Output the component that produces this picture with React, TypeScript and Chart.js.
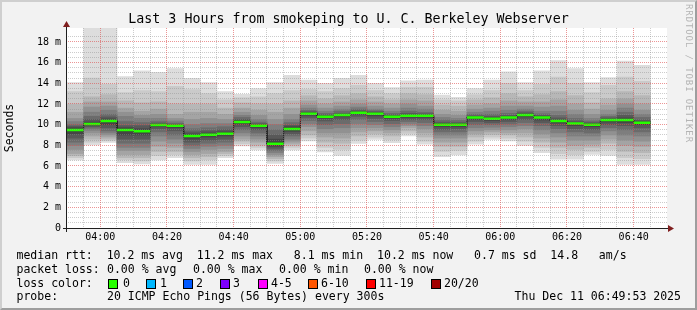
import React, { useEffect, useRef } from 'react';
import { Chart, registerables } from 'chart.js';

Chart.register(...registerables);

const MONO = "'DejaVu Sans Mono', 'Liberation Mono', monospace";

// time axis: minutes after 03:50
const xTickLabels = ['04:00', '04:20', '04:40', '05:00', '05:20', '05:40', '06:00', '06:20', '06:40'];
const yTickLabels = ['0', '2 m', '4 m', '6 m', '8 m', '10 m', '12 m', '14 m', '16 m', '18 m'];

const slotStartMinutes = [
  0, 5, 10, 15, 20, 25, 30, 35, 40, 45, 50, 55, 60, 65, 70, 75, 80, 85,
  90, 95, 100, 105, 110, 115, 120, 125, 130, 135, 140, 145, 150, 155, 160, 165, 170,
];

// median rtt per 5-minute step (ms)
const medianRtt = [
  9.48, 10.06, 10.35, 9.48, 9.35, 9.97, 9.9, 8.9, 9.03, 9.13, 10.26, 9.9, 8.16, 9.58, 11.06, 10.77, 10.94, 11.16,
  11.05, 10.77, 10.87, 10.87, 10.0, 10.0, 10.68, 10.58, 10.68, 10.94, 10.68, 10.35, 10.1, 10.0, 10.45, 10.45, 10.19,
];

// 20 sorted ping rtts per 5-minute step (ms)
const smokePings = [
  [6.58, 6.8, 7.0, 7.2, 7.6, 8.0, 8.3, 8.7, 9.1, 9.42, 9.54, 9.7, 9.85, 10.0, 10.3, 10.6, 11.2, 12.0, 13.2, 14.06],
  [8.03, 8.3, 8.6, 8.9, 9.2, 9.45, 9.65, 9.8, 9.93, 10.03, 10.09, 10.25, 10.5, 10.8, 11.2, 11.7, 12.2, 12.7, 14.5, 21.0],
  [8.29, 8.45, 8.6, 8.8, 9.0, 9.2, 9.4, 9.7, 10.0, 10.3, 10.4, 10.55, 10.75, 11.0, 11.4, 11.8, 12.2, 12.9, 13.9, 21.0],
  [6.32, 6.6, 6.8, 7.1, 7.5, 7.8, 8.2, 8.6, 9.0, 9.4, 9.56, 9.7, 9.9, 10.3, 10.8, 11.2, 11.6, 12.3, 13.1, 14.65],
  [6.19, 6.5, 6.8, 7.1, 7.5, 7.8, 8.2, 8.6, 9.0, 9.28, 9.42, 9.6, 9.9, 10.2, 10.6, 10.9, 11.3, 12.1, 13.3, 15.2],
  [6.58, 7.0, 7.4, 7.9, 8.4, 8.9, 9.3, 9.6, 9.8, 9.95, 10.0, 10.05, 10.15, 10.3, 10.6, 11.0, 11.5, 12.2, 13.2, 15.07],
  [6.8, 7.1, 7.4, 7.8, 8.2, 8.6, 9.0, 9.4, 9.7, 9.88, 9.92, 9.98, 10.05, 10.15, 10.35, 10.6, 11.0, 12.0, 13.7, 15.42],
  [6.16, 6.5, 6.8, 7.1, 7.4, 7.7, 8.0, 8.3, 8.6, 8.85, 8.95, 9.1, 9.3, 9.6, 10.0, 10.5, 11.2, 12.0, 13.4, 14.48],
  [6.16, 6.6, 6.9, 7.2, 7.6, 7.9, 8.2, 8.5, 8.8, 9.0, 9.06, 9.2, 9.4, 9.7, 10.1, 10.6, 11.2, 12.0, 13.0, 14.06],
  [6.8, 7.0, 7.2, 7.4, 7.7, 8.0, 8.3, 8.6, 8.9, 9.1, 9.17, 9.3, 9.5, 9.8, 10.1, 10.5, 11.0, 11.6, 12.4, 13.2],
  [7.94, 8.15, 8.4, 8.6, 8.9, 9.2, 9.5, 9.8, 10.05, 10.22, 10.3, 10.4, 10.5, 10.7, 10.9, 11.2, 11.6, 12.1, 12.6, 12.94],
  [7.55, 7.8, 8.0, 8.3, 8.6, 8.9, 9.2, 9.5, 9.7, 9.87, 9.93, 10.0, 10.1, 10.25, 10.5, 10.9, 11.4, 12.0, 12.7, 13.5],
  [6.26, 6.5, 6.7, 6.9, 7.1, 7.3, 7.5, 7.7, 7.9, 8.08, 8.25, 8.6, 9.0, 9.5, 10.0, 10.5, 11.2, 12.0, 13.0, 14.06],
  [7.55, 7.8, 8.0, 8.2, 8.4, 8.6, 8.9, 9.1, 9.35, 9.53, 9.63, 9.8, 9.95, 10.2, 10.5, 11.0, 11.6, 12.3, 13.3, 14.77],
  [8.42, 8.7, 9.0, 9.4, 9.8, 10.1, 10.4, 10.7, 10.9, 11.03, 11.08, 11.15, 11.25, 11.4, 11.6, 11.9, 12.3, 12.8, 13.4, 14.32],
  [7.35, 7.8, 8.3, 8.8, 9.2, 9.6, 10.0, 10.35, 10.6, 10.74, 10.8, 10.85, 10.95, 11.1, 11.3, 11.6, 12.0, 12.5, 13.2, 14.0],
  [7.03, 7.6, 8.2, 8.7, 9.2, 9.7, 10.1, 10.5, 10.75, 10.91, 10.97, 11.0, 11.1, 11.3, 11.5, 11.8, 12.2, 12.8, 13.5, 14.48],
  [8.19, 8.5, 8.9, 9.3, 9.7, 10.1, 10.5, 10.8, 11.0, 11.12, 11.2, 11.25, 11.35, 11.5, 11.7, 12.0, 12.4, 13.0, 13.8, 14.77],
  [8.58, 8.8, 9.1, 9.4, 9.7, 10.0, 10.3, 10.6, 10.85, 11.0, 11.08, 11.15, 11.25, 11.35, 11.5, 11.8, 12.2, 12.7, 13.3, 14.0],
  [8.26, 8.55, 8.9, 9.2, 9.5, 9.8, 10.1, 10.4, 10.6, 10.74, 10.8, 10.85, 10.95, 11.1, 11.3, 11.6, 12.0, 12.4, 13.0, 13.58],
  [8.9, 9.15, 9.4, 9.7, 9.9, 10.1, 10.3, 10.5, 10.7, 10.84, 10.9, 10.98, 11.1, 11.3, 11.6, 12.0, 12.4, 13.0, 13.6, 14.23],
  [8.1, 8.4, 8.8, 9.2, 9.6, 9.9, 10.2, 10.5, 10.7, 10.84, 10.9, 10.95, 11.05, 11.2, 11.5, 11.8, 12.3, 12.9, 13.6, 14.32],
  [6.9, 7.4, 7.9, 8.3, 8.7, 9.0, 9.3, 9.55, 9.8, 9.97, 10.03, 10.12, 10.25, 10.45, 10.7, 11.0, 11.4, 11.9, 12.4, 12.87],
  [7.06, 7.5, 7.9, 8.3, 8.7, 9.0, 9.3, 9.6, 9.8, 9.97, 10.03, 10.1, 10.2, 10.4, 10.6, 10.9, 11.3, 11.8, 12.3, 12.65],
  [8.1, 8.4, 8.8, 9.1, 9.4, 9.7, 10.0, 10.3, 10.5, 10.66, 10.7, 10.76, 10.85, 11.0, 11.2, 11.5, 11.9, 12.4, 12.9, 13.5],
  [8.58, 8.8, 9.05, 9.3, 9.5, 9.75, 10.0, 10.2, 10.4, 10.55, 10.61, 10.68, 10.8, 11.0, 11.3, 11.6, 12.0, 12.6, 13.3, 14.3],
  [8.42, 8.7, 9.0, 9.2, 9.5, 9.8, 10.05, 10.3, 10.5, 10.65, 10.71, 10.78, 10.9, 11.1, 11.4, 11.8, 12.3, 13.0, 14.0, 15.1],
  [8.0, 8.4, 8.8, 9.2, 9.6, 9.9, 10.2, 10.5, 10.75, 10.91, 10.97, 11.04, 11.15, 11.3, 11.5, 11.8, 12.2, 12.7, 13.3, 14.06],
  [7.29, 7.8, 8.3, 8.7, 9.1, 9.5, 9.9, 10.2, 10.45, 10.65, 10.71, 10.78, 10.9, 11.05, 11.3, 11.7, 12.2, 12.9, 13.9, 15.2],
  [6.65, 7.2, 7.8, 8.3, 8.8, 9.2, 9.6, 9.9, 10.15, 10.32, 10.38, 10.48, 10.65, 10.9, 11.3, 11.8, 12.4, 13.2, 14.6, 16.2],
  [6.65, 7.1, 7.6, 8.0, 8.5, 8.9, 9.3, 9.6, 9.9, 10.07, 10.13, 10.2, 10.35, 10.6, 11.0, 11.4, 12.0, 12.8, 14.0, 15.42],
  [7.13, 7.4, 7.8, 8.1, 8.5, 8.9, 9.2, 9.55, 9.8, 9.97, 10.03, 10.1, 10.2, 10.35, 10.6, 11.0, 11.5, 12.1, 13.1, 14.06],
  [7.03, 7.6, 8.2, 8.6, 9.0, 9.4, 9.7, 10.0, 10.25, 10.42, 10.48, 10.55, 10.65, 10.8, 11.0, 11.4, 11.9, 12.5, 13.8, 14.55],
  [6.16, 6.8, 7.4, 8.0, 8.5, 9.0, 9.5, 9.9, 10.2, 10.4, 10.5, 10.65, 10.9, 11.2, 11.6, 12.0, 12.5, 13.2, 14.6, 16.16],
  [6.16, 6.7, 7.3, 7.9, 8.4, 8.9, 9.3, 9.7, 10.0, 10.16, 10.22, 10.3, 10.45, 10.7, 11.0, 11.4, 12.0, 12.8, 14.2, 15.74],
];

const smokeGrays = ['#dddddd', '#cacaca', '#b7b7b7', '#a4a4a4', '#919191', '#7e7e7e', '#6b6b6b', '#585858', '#454545', '#323232'];

const lossLabels = ['0', '1', '2', '3', '4-5', '6-10', '11-19', '20/20'];
const lossColors = ['#26ff00', '#00b8ff', '#0059ff', '#7e00ff', '#ff00ff', '#ff5500', '#ff0000', '#a10000'];
const lossBoxX = [108, 146, 183, 220, 258, 308, 366, 431];
const lossLabelX = [123, 160, 196, 233, 271, 321, 379, 444];

const packetLossItems = ['0.00 % avg', '0.00 % max', '0.00 % min', '0.00 % now'];
const packetLossX = [107, 193, 279, 364];

const MGRID_DOT = 'rgba(222, 79, 79, 0.6)';
const GRID_DOT = 'rgba(143, 143, 143, 0.45)';

const isMultiple = (v: number, step: number) => Math.abs(v / step - Math.round(v / step)) < 1e-6;
const isMajorX = (v: number) => v > 0 && v < 180 && isMultiple(v - 10, 20);
const isMajorY = (v: number) => v > 0 && isMultiple(v, 2);

// 1px dot pattern (dotted rrdtool grid lines)
const patternCache: Record<string, CanvasPattern | string> = {};
function dotPattern(color: string, horizontal: boolean): CanvasPattern | string {
  const key = color + (horizontal ? 'h' : 'v');
  if (patternCache[key]) return patternCache[key];
  const c = document.createElement('canvas');
  c.width = horizontal ? 2 : 1;
  c.height = horizontal ? 1 : 2;
  const g = c.getContext('2d');
  let p: CanvasPattern | string = color;
  if (g) {
    g.fillStyle = color;
    g.fillRect(0, 0, 1, 1);
    p = g.createPattern(c, 'repeat') || color;
  }
  patternCache[key] = p;
  return p;
}

// dotted grid drawn on top of the smoke, at the scales' tick positions
const rrdGrid = {
  id: 'rrdGrid',
  afterDatasetsDraw(chart: any) {
    const { ctx, chartArea, scales } = chart;
    const { left, right, top, bottom } = chartArea;
    const xs = scales.x;
    const ys = scales.y;
    ctx.save();
    const pass = (major: boolean) => {
      for (const t of xs.ticks) {
        const v = t.value;
        if (v <= 0 || v >= 180 || isMajorX(v) !== major) continue;
        const col = Math.floor(xs.getPixelForValue(v) - 0.01);
        ctx.fillStyle = dotPattern(major ? MGRID_DOT : GRID_DOT, false);
        ctx.fillRect(col, top, 1, bottom - top);
      }
      for (const t of ys.ticks) {
        const v = t.value;
        if (v <= 0 || !isMultiple(v, 0.5) || isMajorY(v) !== major) continue;
        const row = Math.floor(ys.getPixelForValue(v) - 0.01);
        ctx.fillStyle = dotPattern(major ? MGRID_DOT : GRID_DOT, true);
        ctx.fillRect(left, row, right - left, 1);
      }
    };
    pass(false);
    pass(true);
    ctx.restore();
  },
};

const frame = {
  id: 'rrdFrame',
  beforeDraw(chart: any) {
    const { ctx, chartArea } = chart;
    ctx.save();
    ctx.fillStyle = '#ffffff';
    ctx.fillRect(chartArea.left, chartArea.top, chartArea.right - chartArea.left, chartArea.bottom - chartArea.top);
    ctx.restore();
  },
  afterDraw(chart: any) {
    const { ctx, chartArea } = chart;
    const { left, right, top, bottom } = chartArea;
    ctx.save();
    ctx.strokeStyle = '#1f1f1f';
    ctx.lineWidth = 1;
    ctx.beginPath();
    ctx.moveTo(left - 4, bottom + 0.5);
    ctx.lineTo(right + 2, bottom + 0.5);
    ctx.moveTo(left - 0.5, bottom + 4);
    ctx.lineTo(left - 0.5, top - 2);
    ctx.stroke();
    ctx.fillStyle = '#801f1f';
    ctx.beginPath();
    ctx.moveTo(right + 1, bottom - 3);
    ctx.lineTo(right + 7, bottom + 0.5);
    ctx.lineTo(right + 1, bottom + 4);
    ctx.closePath();
    ctx.fill();
    ctx.beginPath();
    ctx.moveTo(left - 4, top - 1);
    ctx.lineTo(left - 0.5, top - 7);
    ctx.lineTo(left + 3, top - 1);
    ctx.closePath();
    ctx.fill();
    ctx.restore();
  },
};

export default function App() {
  const ref = useRef<HTMLCanvasElement>(null);

  useEffect(() => {
    const canvas = ref.current;
    if (!canvas) return;

    const bandSets = smokeGrays.map((color, k) => ({
      type: 'bar' as const,
      data: slotStartMinutes.map((t, i) => ({ x: t + 2.5, y: [smokePings[i][k], smokePings[i][19 - k]] })),
      backgroundColor: color,
      borderWidth: 0,
      categoryPercentage: 1,
      barPercentage: 1,
      order: 20 - k,
    }));

    const medianStep = {
      type: 'line' as const,
      data: slotStartMinutes.flatMap((t, i) => [
        { x: t, y: medianRtt[i] },
        { x: t + 5, y: medianRtt[i] },
      ]),
      borderColor: '#202020',
      borderWidth: 1,
      pointRadius: 0,
      tension: 0,
      order: 1,
    };

    const medianGreen = {
      type: 'line' as const,
      data: slotStartMinutes.flatMap((t, i) => [
        { x: t, y: medianRtt[i] },
        { x: t + 5, y: medianRtt[i] },
        { x: t + 5, y: null },
      ]),
      borderColor: lossColors[0],
      borderWidth: 2.5,
      pointRadius: 0,
      tension: 0,
      spanGaps: false,
      order: 0,
    };

    const chart = new Chart(canvas, {
      type: 'bar',
      data: { datasets: [...bandSets, medianStep, medianGreen] as any },
      plugins: [frame, rrdGrid],
      options: {
        animation: false,
        responsive: false,
        maintainAspectRatio: false,
        devicePixelRatio: 1,
        events: [],
        layout: { padding: { top: 28, right: 30, bottom: 62, left: 0 } },
        plugins: { legend: { display: false }, tooltip: { enabled: false }, title: { display: false } },
        scales: {
          x: {
            type: 'linear',
            min: 0,
            max: 180,
            offset: false,
            stacked: true,
            grid: { display: false, offset: false, drawTicks: false },
            border: { display: false },
            ticks: {
              stepSize: 5,
              autoSkip: false,
              maxRotation: 0,
              minRotation: 0,
              padding: 3,
              color: '#000',
              font: { family: MONO, size: 10 },
              callback: (v: any) => {
                const n = Number(v);
                if (n >= 10 && isMultiple(n - 10, 20)) return xTickLabels[Math.round((n - 10) / 20)] ?? '';
                return '';
              },
            },
            afterFit: (s: any) => {
              s.height = 20;
            },
          },
          y: {
            min: 0,
            max: 19.35,
            grid: { display: false, drawTicks: false },
            border: { display: false },
            ticks: {
              stepSize: 0.5,
              autoSkip: false,
              padding: 6,
              color: '#000',
              font: { family: MONO, size: 10 },
              callback: (v: any) => {
                const n = Number(v);
                if (isMultiple(n, 2)) return yTickLabels[Math.round(n / 2)] ?? '';
                return '';
              },
            },
            title: {
              display: true,
              text: 'Seconds',
              color: '#000',
              font: { family: MONO, size: 11.5 },
              padding: { top: 3, bottom: 0 },
            },
            afterFit: (s: any) => {
              s.width = 67;
            },
          },
        },
      } as any,
    });

    return () => chart.destroy();
  }, []);

  const text: React.CSSProperties = {
    position: 'absolute',
    fontFamily: MONO,
    fontSize: 11.53,
    lineHeight: '14px',
    whiteSpace: 'pre',
    color: '#000',
  };

  const rows = [248, 261.5, 275.5, 289];

  return (
    <div
      style={{
        position: 'absolute',
        left: 0,
        top: 0,
        width: 697,
        height: 310,
        background: '#f2f2f2',
        overflow: 'hidden',
      }}
    >
      <canvas ref={ref} width={697} height={310} style={{ position: 'absolute', left: 0, top: 0, width: 697, height: 310 }} />
      <div
        style={{
          position: 'absolute',
          left: 0,
          top: 11,
          width: 697,
          textAlign: 'center',
          fontFamily: MONO,
          fontSize: 13.3,
          lineHeight: '16px',
          whiteSpace: 'pre',
          color: '#000',
        }}
      >
        Last 3 Hours from smokeping to U. C. Berkeley Webserver
      </div>
      <div
        style={{
          position: 'absolute',
          left: 684,
          top: 4,
          writingMode: 'vertical-rl',
          fontFamily: MONO,
          fontSize: 9,
          letterSpacing: 0.9,
          color: '#b4b4b4',
          whiteSpace: 'pre',
        }}
      >
        RRDTOOL / TOBI OETIKER
      </div>

      <div style={{ ...text, left: 16.5, top: rows[0] }}>
        median rtt:  10.2 ms avg  11.2 ms max   8.1 ms min  10.2 ms now   0.7 ms sd  14.8   am/s
      </div>

      <div style={{ ...text, left: 16.5, top: rows[1] }}>packet loss:</div>
      {packetLossItems.map((s, i) => (
        <div key={'pl' + i} style={{ ...text, left: packetLossX[i], top: rows[1] }}>
          {s}
        </div>
      ))}

      <div style={{ ...text, left: 16.5, top: rows[2] }}>loss color:</div>
      {lossLabels.map((s, i) => (
        <React.Fragment key={'lc' + i}>
          <div
            style={{
              position: 'absolute',
              left: lossBoxX[i],
              top: rows[2] + 3,
              width: 8,
              height: 8,
              background: lossColors[i],
              border: '1px solid #000',
            }}
          />
          <div style={{ ...text, left: lossLabelX[i], top: rows[2] }}>{s}</div>
        </React.Fragment>
      ))}

      <div style={{ ...text, left: 16.5, top: rows[3] }}>probe:</div>
      <div style={{ ...text, left: 107, top: rows[3] }}>20 ICMP Echo Pings (56 Bytes) every 300s</div>
      <div style={{ ...text, right: 16, top: rows[3] }}>Thu Dec 11 06:49:53 2025</div>

      <div
        style={{
          position: 'absolute',
          left: 0,
          top: 0,
          width: 697,
          height: 310,
          boxSizing: 'border-box',
          borderTop: '2px solid #cfcfcf',
          borderLeft: '2px solid #cfcfcf',
          borderBottom: '2px solid #9e9e9e',
          borderRight: '2px solid #9e9e9e',
          pointerEvents: 'none',
        }}
      />
    </div>
  );
}
